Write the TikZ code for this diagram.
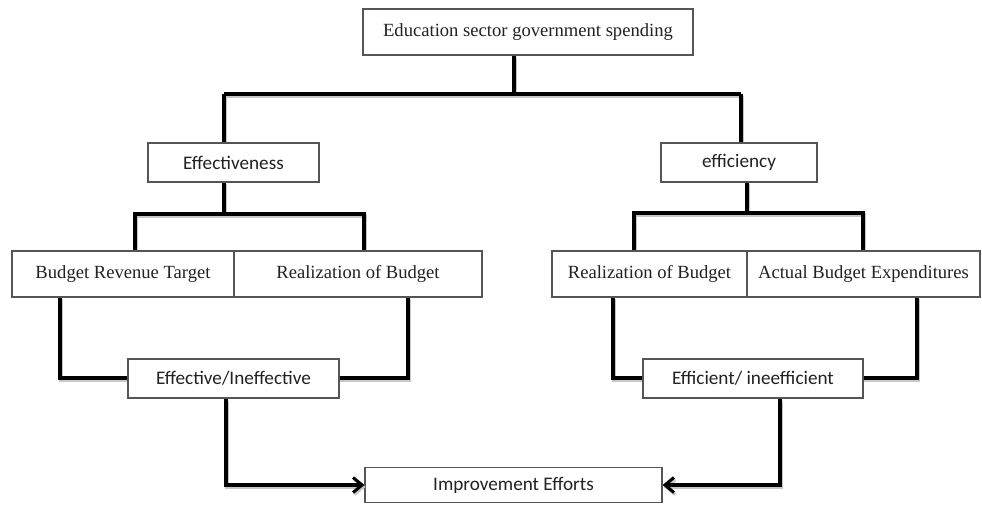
\documentclass[tikz,border=0pt]{standalone}
\usepackage{fontspec}
\setmainfont{Liberation Serif}
\newfontfamily\calibrifont{Carlito}
\usetikzlibrary{arrows.meta}
\definecolor{boxline}{HTML}{555555}
\definecolor{inktext}{HTML}{222222}
\begin{document}
\begin{tikzpicture}[x=1pt,y=-1pt,
  box/.style={draw=boxline, line width=1.2pt, fill=white, inner sep=0pt,
              text=inktext, anchor=center},
  serifbox/.style={box, font=\fontsize{18.6}{21}\selectfont},
  sansbox/.style={box, font=\calibrifont\fontsize{19.2}{22}\selectfont},
  conn/.style={line width=3.6pt, line cap=butt, line join=miter,
               preaction={draw=black!22, line width=3.6pt,
                          transform canvas={xshift=1.2pt,yshift=-2pt}}},
  arr/.style={conn, -{Straight Barb[length=9pt,width=15pt,line width=3pt]}}
]
\useasboundingbox (0,0) rectangle (982,504);

% junction points of the connector tree
\coordinate (tj) at (514,94);
\coordinate (lj) at (224,94);
\coordinate (rj) at (741,94);
\coordinate (ej) at (224,214);
\coordinate (ejl) at (135,214);
\coordinate (ejr) at (364,214);
\coordinate (fj) at (747,213);
\coordinate (fjl) at (634,213);
\coordinate (fjr) at (863,213);
\coordinate (ll) at (60,378);
\coordinate (lr) at (408,378);
\coordinate (rl) at (613,378);
\coordinate (rr) at (917,378);
\coordinate (lb) at (226,485);
\coordinate (rb) at (780,485);

% connectors (drawn first, boxes sit on top)
\draw[conn] (tj |- 0,55) -- (tj);
\draw[conn] (lj) -- (rj);
\draw[conn] (lj) -- (lj |- 0,143);
\draw[conn] (rj) -- (rj |- 0,143);
\draw[conn] (ej |- 0,182) -- (ej);
\draw[conn] (ejl |- 0,251) -- (ejl) -- (ejr) -- (ejr |- 0,251);
\draw[conn] (fj |- 0,182) -- (fj);
\draw[conn] (fjl |- 0,251) -- (fjl) -- (fjr) -- (fjr |- 0,251);
\draw[conn] (ll |- 0,297) -- (ll) -- (128,378);
\draw[conn] (lr |- 0,297) -- (lr) -- (339,378);
\draw[conn] (rl |- 0,297) -- (rl) -- (643,378);
\draw[conn] (rr |- 0,297) -- (rr) -- (863,378);

% boxes
\node[serifbox, minimum width=330pt, minimum height=46pt] (top) at (528,32)
  {Education sector government spending};
\node[sansbox, minimum width=171pt, minimum height=39pt] (eff) at (233.5,162.5)
  {Effectiveness};
\node[sansbox, minimum width=156pt, minimum height=39pt] (effc) at (739,162.5)
  {efficiency};
\node[serifbox, minimum width=222pt, minimum height=46pt] (brt) at (123,274)
  {Budget Revenue Target};
\node[serifbox, minimum width=248pt, minimum height=46pt] (rob1) at (358,274)
  {Realization of Budget};
\node[serifbox, minimum width=195pt, minimum height=46pt] (rob2) at (649.5,274)
  {Realization of Budget};
\node[serifbox, minimum width=233pt, minimum height=46pt] (abe) at (863.5,274)
  {Actual Budget Expenditures};
\node[sansbox, minimum width=211pt, minimum height=39pt] (ei) at (233.5,378.5)
  {Effective/Ineffective};
\node[sansbox, minimum width=220pt, minimum height=39pt] (efi) at (753,378.5)
  {Efficient/ ineefficient};
\node[sansbox, minimum width=297pt, minimum height=35pt] (imp) at (513.5,485)
  {Improvement Efforts};

% outcome arrows into the improvement box
\draw[arr] (ei.south -| lb) -- (lb) -- (imp.west);
\draw[arr] (efi.south -| rb) -- (rb) -- (imp.east);
\end{tikzpicture}
\end{document}
